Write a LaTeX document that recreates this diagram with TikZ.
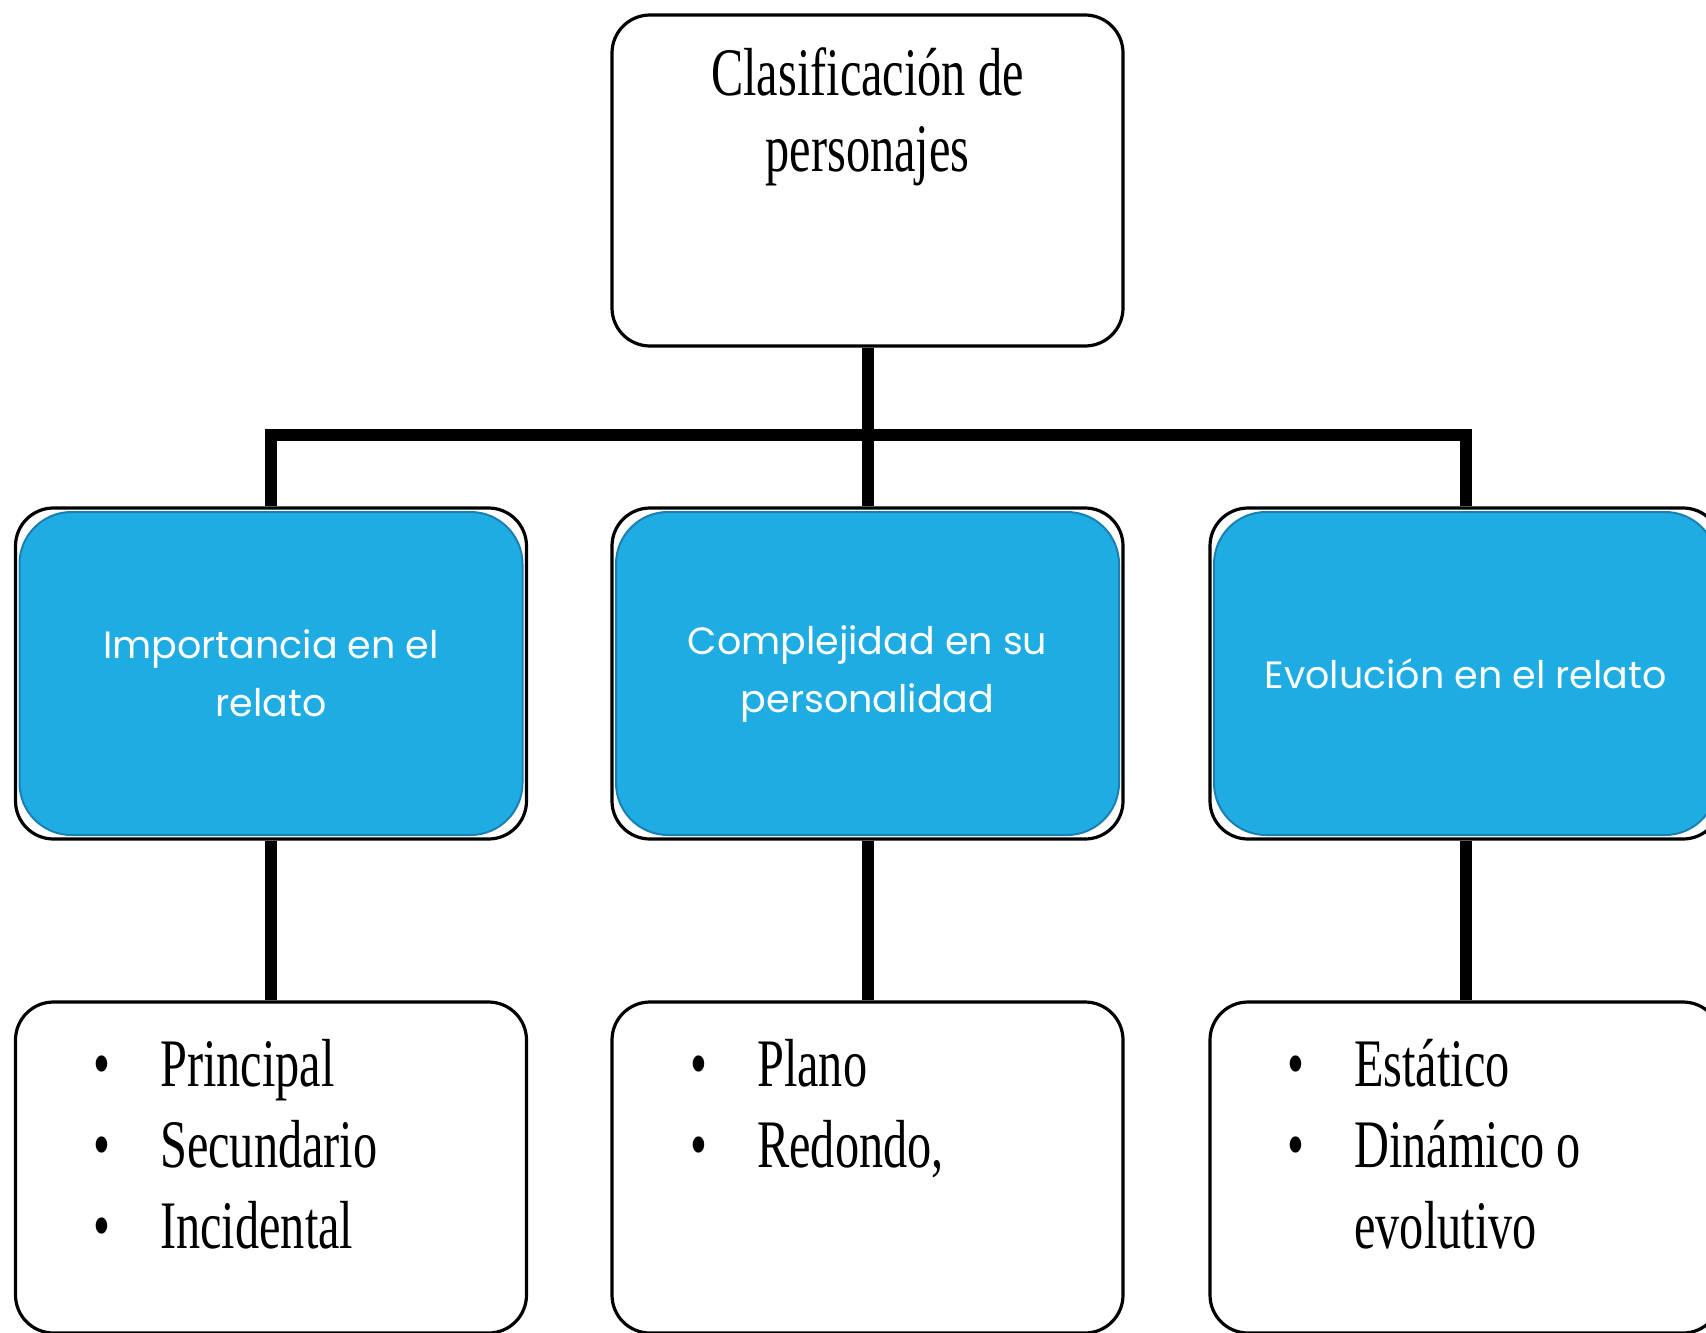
\documentclass[tikz,border=0pt]{standalone}
\usepackage{fontspec}
\setmainfont{Liberation Serif}
\newfontfamily\boxfont{Poppins}
\newfontfamily\narrowfont[FakeStretch=0.71]{Liberation Serif}
\usetikzlibrary{positioning}
\definecolor{catblue}{RGB}{31,172,227}
\definecolor{catedge}{RGB}{26,128,180}

\begin{document}
\begin{tikzpicture}
  [x=0.5pt,y=-0.5pt,
   whitebox/.style={draw,line width=1.6pt,rounded corners=19pt,fill=white,
     minimum width=255.5pt,minimum height=165.5pt,inner sep=0pt},
   bluebox/.style={draw=catedge,line width=1pt,rounded corners=26pt,fill=catblue,
     minimum width=251.5pt,minimum height=161.5pt,inner sep=0pt,align=center,
     text=white,font=\boxfont\fontsize{19}{29}\selectfont},
   toptext/.style={inner sep=0pt,font=\narrowfont\fontsize{34}{38}\selectfont},
   listtext/.style={inner sep=0pt,font=\narrowfont\fontsize{34}{40.5}\selectfont},
   link/.style={line width=6pt,line join=miter}]
  \useasboundingbox (0,0) rectangle (1706,1332);
  \clip (0,0) rectangle (1706,1332);

  % top
  \node[whitebox] (root) at (867.5,180.5) {};
  \node[toptext,anchor=base] (roottxt) at (867.5,96)
    {\begin{tabular}[t]{@{}c@{}}Clasificación de\\personajes\end{tabular}};

  % middle row
  \node[whitebox] (imp) at (271,673.5) {};
  \node[whitebox] (com) at (867.5,673.5) {};
  \node[whitebox] (evo) at (1465.5,673.5) {};
  \node[bluebox] (impin) at (imp) {Importancia en el\\relato};
  \node[bluebox] (comin) at (com) {Complejidad en su\\personalidad};
  \node[bluebox] (evoin) at (evo) {Evolución en el relato};

  % bottom row
  \node[whitebox] (impl) at (271,1167.5) {};
  \node[whitebox] (coml) at (867.5,1167.5) {};
  \node[whitebox] (evol) at (1465.5,1167.5) {};
  \node[listtext,anchor=base west] (impltxt) at (93,1086)
    {\begin{tabular}[t]{@{}l@{\hspace{25pt}}l@{}}
      \textbullet & Principal\\ \textbullet & Secundario\\ \textbullet & Incidental
     \end{tabular}};
  \node[listtext,anchor=base west] (comltxt) at (690,1086)
    {\begin{tabular}[t]{@{}l@{\hspace{25pt}}l@{}}
      \textbullet & Plano\\ \textbullet & Redondo,
     \end{tabular}};
  \node[listtext,anchor=base west] (evoltxt) at (1287,1086)
    {\begin{tabular}[t]{@{}l@{\hspace{25pt}}l@{}}
      \textbullet & Estático\\ \textbullet & Dinámico o\\ & evolutivo
     \end{tabular}};

  \coordinate (bar) at (867.5,435);
  \draw[link] (imp.north) |- (bar) -| (evo.north);
  \draw[link] (root.south) -- (com.north);
  \foreach \from/\to in {imp/impl,com/coml,evo/evol}
    \draw[link] (\from.south) -- (\to.north);
\end{tikzpicture}
\end{document}
